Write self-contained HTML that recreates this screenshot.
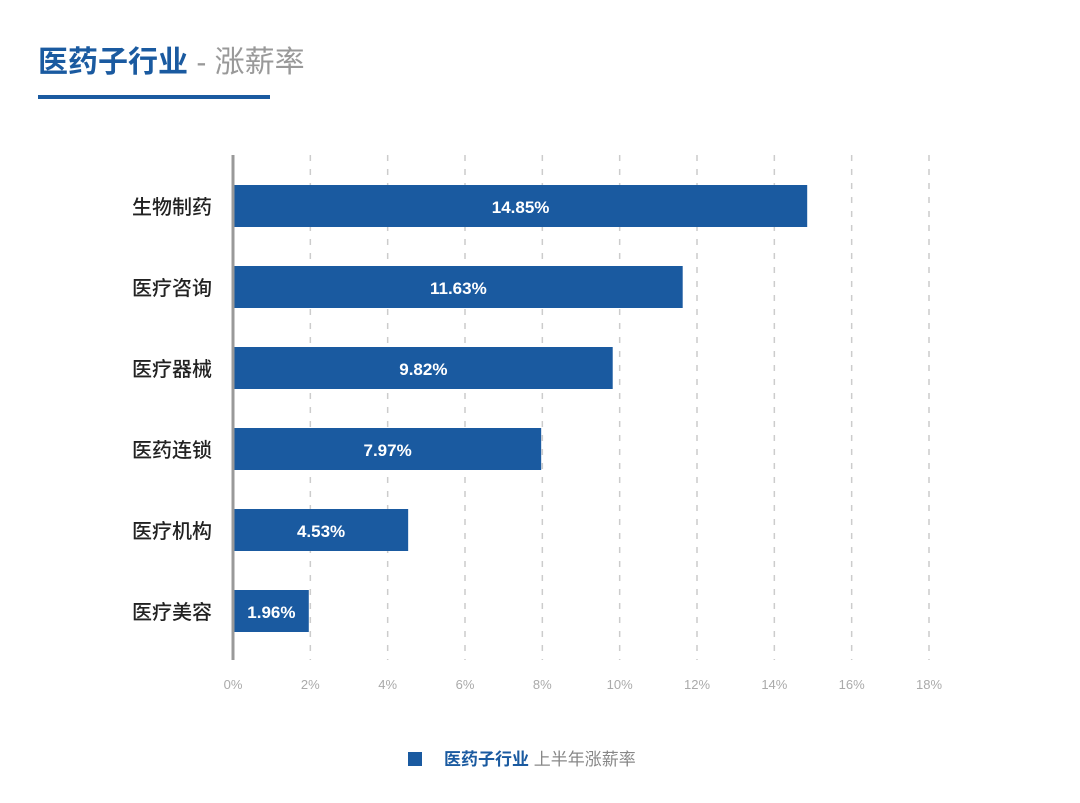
<!DOCTYPE html>
<html><head><meta charset="utf-8"><style>
body{margin:0;background:#fff;width:1080px;height:798px;overflow:hidden;font-family:"Liberation Sans","Noto Sans CJK SC",sans-serif;}
</style></head><body>
<svg id="chart" width="1080" height="798" xmlns="http://www.w3.org/2000/svg" style="font-family:'Liberation Sans','Noto Sans CJK SC',sans-serif">
<text x="38" y="72" font-size="30" font-weight="bold" fill="#1a5aa0">医药子行业<tspan fill="#999" font-weight="normal"> - 涨薪率</tspan></text>
<rect x="38" y="95" width="232" height="4" fill="#1a5aa0"/>
<g id="grid"></g><g id="bars"></g><g id="labels"></g>
<line x1="233" y1="155" x2="233" y2="660" stroke="#999" stroke-width="3"/>
<g>
<rect x="408" y="752" width="14" height="14" fill="#1a5aa0"/>
<text x="444" y="765" font-size="17"><tspan fill="#1a5aa0" font-weight="bold">医药子行业</tspan><tspan fill="#888"> 上半年涨薪率</tspan></text>
</g>
</svg>
<script>
const categories=["生物制药","医疗咨询","医疗器械","医药连锁","医疗机构","医疗美容"];
const values=[14.85,11.63,9.82,7.97,4.53,1.96];
const valueLabels=["14.85%","11.63%","9.82%","7.97%","4.53%","1.96%"];
const ticks=[0,2,4,6,8,10,12,14,16,18];
const tickLabels=["0%","2%","4%","6%","8%","10%","12%","14%","16%","18%"];
const NS="http://www.w3.org/2000/svg";
const x=v=>233+(v/18)*(929-233);
const y=i=>206+i*81;
function mk(t,a,p){const e=document.createElementNS(NS,t);for(const k in a)e.setAttribute(k,a[k]);p.appendChild(e);return e;}
const grid=document.getElementById('grid'),bars=document.getElementById('bars'),labels=document.getElementById('labels');
ticks.forEach((t,i)=>{
 if(t>0){const l=mk('line',{x1:x(t),x2:x(t),y1:155,y2:660,stroke:'#ccc','stroke-width':1.5,'stroke-dasharray':'6,8'},grid);
 
 }
 const tx=mk('text',{x:x(t),y:689,'font-size':13,fill:'#aaa','text-anchor':'middle'},grid);tx.textContent=tickLabels[i];
 
 
});
categories.forEach((c,i)=>{
 const r=mk('rect',{x:234,y:y(i)-21,width:x(values[i])-234,height:42,fill:'#1a5aa0'},bars);
 
 
 const v=mk('text',{x:(234+x(values[i]))/2,y:y(i)+7,'font-size':17,'font-weight':'bold',fill:'#fff','text-anchor':'middle'},labels);v.textContent=valueLabels[i];
 
 
 const cl=mk('text',{x:212,y:y(i)+8,'font-size':20,'font-weight':500,fill:'#222','text-anchor':'end'},labels);cl.textContent=c;
 
 
});
</script>
</body></html>
